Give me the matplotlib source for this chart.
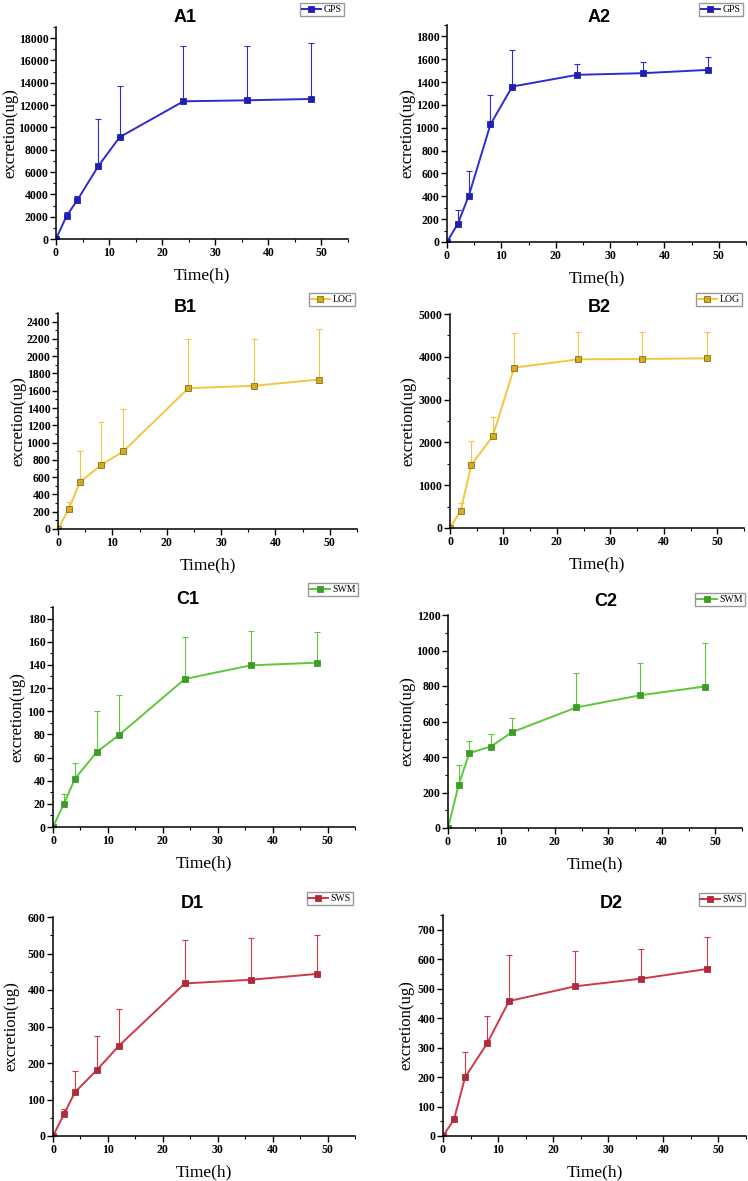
import matplotlib
matplotlib.use("Agg")
import matplotlib.pyplot as plt
import numpy as np
from matplotlib.ticker import MultipleLocator, AutoMinorLocator

W, H = 748, 1181

time_h = [0, 2, 4, 8, 12, 24, 36, 48]

# mean excretion (ug) and upper SD
a1_mean = [0, 2070, 3470, 6560, 9130, 12340, 12430, 12550]
a1_err = [0, 330, 420, 4190, 4610, 5000, 4910, 5030]
a2_mean = [0, 161, 404, 1030, 1361, 1464, 1478, 1507]
a2_err = [0, 123, 216, 255, 316, 96, 102, 117]
b1_mean = [0, 235, 539, 744, 898, 1630, 1657, 1730]
b1_err = [0, 77, 367, 489, 493, 574, 539, 582]
b2_mean = [0, 405, 1480, 2142, 3746, 3941, 3949, 3964]
b2_err = [0, 179, 560, 451, 802, 646, 638, 623]
c1_mean = [0, 20.2, 41.8, 64.9, 79.3, 127.8, 139.6, 141.9]
c1_err = [0, 8.4, 13.9, 35.5, 34.6, 36.6, 29.4, 26.6]
c2_mean = [0, 244, 422, 459, 540, 679, 748, 797]
c2_err = [0, 110, 69, 68, 82, 193, 184, 247]
d1_mean = [0, 60, 120, 181, 247, 418, 428, 444]
d1_err = [0, 14, 59, 94, 101, 118, 114, 107]
d2_mean = [0, 56, 199, 314, 458, 508, 534, 567]
d2_err = [0, 0, 87, 92, 155, 119, 102, 108]

panels = [
    # name, label, mean, err, ymax, ystep, line colour, marker colour,
    # axes box (l, r, top, bottom px), title xy, legend (right, top), ylabel centre x
    ("A1", "GPS", a1_mean, a1_err, 19000, 2000, "#2b2bd0", "#2020b0", (56, 348, 27, 239), (185, 17), (344, 3), 10.5),
    ("A2", "GPS", a2_mean, a2_err, 1900, 200, "#2b2bd0", "#2020b0", (447, 746, 25, 242), (599, 17), (743, 3), 407),
    ("B1", "LOG", b1_mean, b1_err, 2500, 200, "#f2c740", "#d4aa20", (58, 357, 313, 529), (185, 307), (355, 293), 18),
    ("B2", "LOG", b2_mean, b2_err, 5000, 1000, "#f2c740", "#d4aa20", (450, 744, 314, 528), (599, 308), (742, 293), 408),
    ("C1", "SWM", c1_mean, c1_err, 190, 20, "#5cc83a", "#3c9e28", (53, 355, 607, 827), (188, 600), (358, 583), 17),
    ("C2", "SWM", c2_mean, c2_err, 1200, 200, "#5cc83a", "#3c9e28", (448, 742, 615, 828), (606, 601), (745, 593), 407),
    ("D1", "SWS", d1_mean, d1_err, 600, 100, "#d0384a", "#b02a3c", (53, 355, 917, 1136), (192, 903), (353, 892), 11),
    ("D2", "SWS", d2_mean, d2_err, 750, 100, "#d0384a", "#b02a3c", (443, 746, 915, 1136), (611, 903), (745, 893), 406),
]

fig = plt.figure(figsize=(W / 100, H / 100), dpi=100)

for name, label, mean, err, ymax, ystep, col, mcol, box, tpos, lpos, ylx in panels:
    l, r, t, b = box
    ax = fig.add_axes([l / W, 1 - b / H, (r - l) / W, (b - t) / H])
    lower = np.zeros(len(err))
    ax.errorbar(time_h, mean, yerr=[lower, err], fmt="none", ecolor=col,
                elinewidth=0.8, capsize=2.2, capthick=0.8)
    edge = "#8a6e10" if label == "LOG" else mcol
    ax.plot(time_h, mean, color=col, lw=1.4, marker="s", ms=4.2,
            mfc=mcol, mec=edge, mew=0.6, label=label)
    ax.set_xlim(0, 55)
    ax.set_ylim(0, ymax)
    ax.xaxis.set_major_locator(MultipleLocator(10))
    ax.xaxis.set_minor_locator(MultipleLocator(5))
    ax.yaxis.set_major_locator(MultipleLocator(ystep))
    ax.yaxis.set_minor_locator(AutoMinorLocator(2))
    for s in ("top", "right"):
        ax.spines[s].set_visible(False)
    for s in ("left", "bottom"):
        ax.spines[s].set_linewidth(1.1)
    ax.tick_params(which="major", direction="out", length=4, width=1, pad=1.5)
    ax.tick_params(which="minor", direction="out", length=2.5, width=0.8)
    for lab in ax.get_xticklabels() + ax.get_yticklabels():
        lab.set_fontfamily("Liberation Serif")
        lab.set_fontweight("bold")
        lab.set_fontsize(8.5)
    ax.set_xlabel("Time(h)", fontfamily="Liberation Serif", fontsize=12.5, labelpad=6)
    ax.set_ylabel("excretion(ug)", fontfamily="Liberation Serif", fontsize=12,
                  va="center")
    ax.yaxis.set_label_coords((ylx - l) / (r - l), 0.5)
    fig.text(tpos[0] / W, 1 - tpos[1] / H, name, ha="center", va="center",
             fontfamily="Liberation Sans", fontweight="bold", fontsize=13)
    ax.legend(loc="upper right", bbox_to_anchor=(lpos[0] / W, 1 - lpos[1] / H),
              bbox_transform=fig.transFigure, fancybox=False, edgecolor="#999999",
              framealpha=1, borderpad=0.2, handlelength=2.0, handletextpad=0.3,
              borderaxespad=0, prop={"family": "Liberation Serif", "size": 7})

fig.savefig("out.png", dpi=100)
